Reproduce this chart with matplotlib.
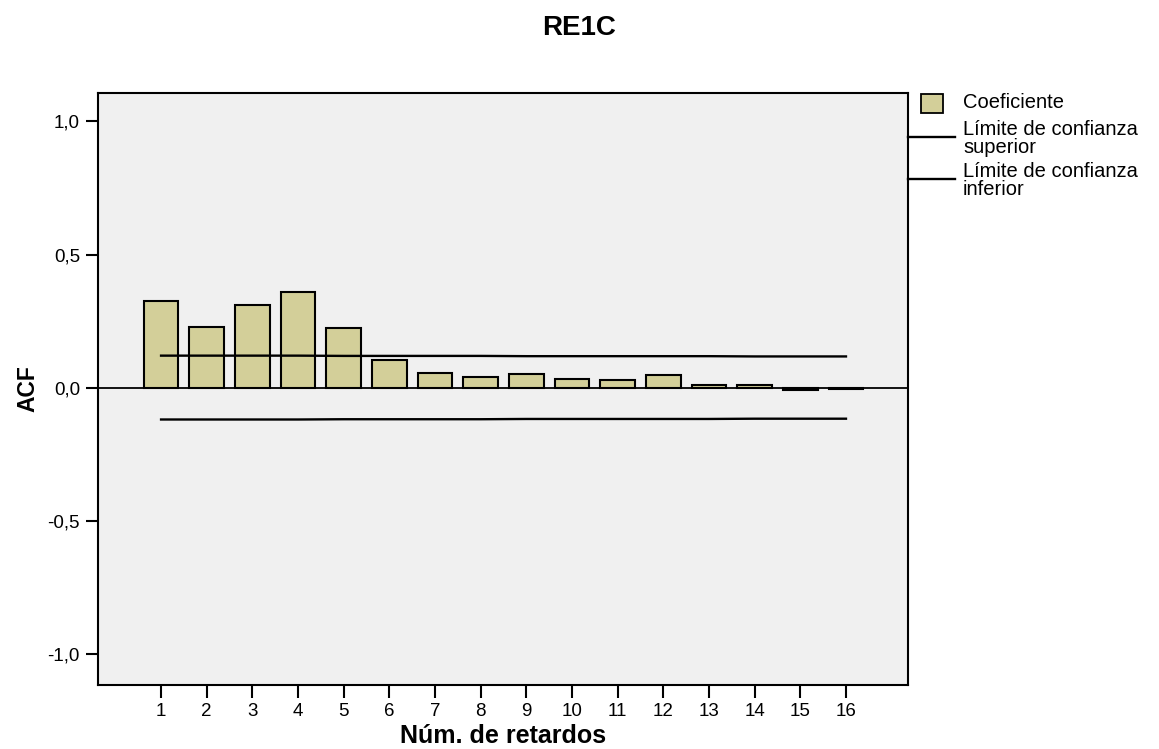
import numpy as np
from matplotlib import pyplot as plt
from matplotlib.patches import Rectangle
from matplotlib.lines import Line2D

plt.rcParams['font.family'] = ['Liberation Sans', 'DejaVu Sans']

lags = np.arange(1, 17)
acf = [0.327, 0.227, 0.312, 0.361, 0.223, 0.105, 0.053, 0.041,
       0.051, 0.034, 0.029, 0.047, 0.011, 0.008, -0.010, -0.004]
upper = [0.120, 0.120, 0.120, 0.120, 0.119, 0.119, 0.119, 0.119,
         0.118, 0.118, 0.118, 0.118, 0.118, 0.117, 0.117, 0.117]
lower = [-0.120, -0.120, -0.120, -0.120, -0.119, -0.119, -0.119, -0.119,
         -0.118, -0.118, -0.118, -0.118, -0.118, -0.117, -0.117, -0.117]
yticks = [-1.0, -0.5, 0.0, 0.5, 1.0]
yticklabels = ['-1,0', '-0,5', '0,0', '0,5', '1,0']

bar_col = '#d3cf99'

fig = plt.figure(figsize=(11.59, 7.49), dpi=100)
ax = fig.add_axes([0.0846, 0.0854, 0.6989, 0.7904])
ax.set_facecolor('#f0f0f0')

ax.bar(lags, acf, width=0.76, color=bar_col, edgecolor='black', linewidth=1.5, zorder=2)
ax.axhline(0, color='black', linewidth=1.3, zorder=3)
ax.plot(lags, upper, color='black', linewidth=1.7, zorder=4)
ax.plot(lags, lower, color='black', linewidth=1.7, zorder=4)

ax.set_xlim(-0.38, 17.36)
ax.set_ylim(-1.118, 1.107)
ax.set_xticks(lags)
ax.set_xticklabels([str(l) for l in lags])
ax.set_yticks(yticks)
ax.set_yticklabels(yticklabels)
ax.tick_params(direction='out', length=9, width=1.5, labelsize=13.5, pad=4)
for s in ax.spines.values():
    s.set_linewidth(1.5)

ax.set_xlabel('Núm. de retardos', fontsize=18, fontweight='bold', labelpad=3)
ax.set_ylabel('ACF', fontsize=16.5, fontweight='bold', labelpad=6)
fig.text(0.5, 0.962, 'RE1C', ha='center', va='center', fontsize=20, fontweight='bold')

# legend
fig.add_artist(Rectangle((0.7947, 0.8491), 0.019, 0.0254, transform=fig.transFigure,
                         facecolor=bar_col, edgecolor='black', linewidth=1.3))
fig.text(0.8309, 0.8625, 'Coeficiente', va='center', fontsize=14.5)
fig.add_artist(Line2D([0.7834, 0.824], [0.8171, 0.8171], transform=fig.transFigure,
                      color='black', linewidth=1.7))
fig.text(0.8309, 0.815, 'Límite de confianza\nsuperior', va='center', fontsize=14.5,
         linespacing=0.88)
fig.add_artist(Line2D([0.7834, 0.824], [0.761, 0.761], transform=fig.transFigure,
                      color='black', linewidth=1.7))
fig.text(0.8309, 0.759, 'Límite de confianza\ninferior', va='center', fontsize=14.5,
         linespacing=0.88)

fig.savefig('out.png', dpi=100)
